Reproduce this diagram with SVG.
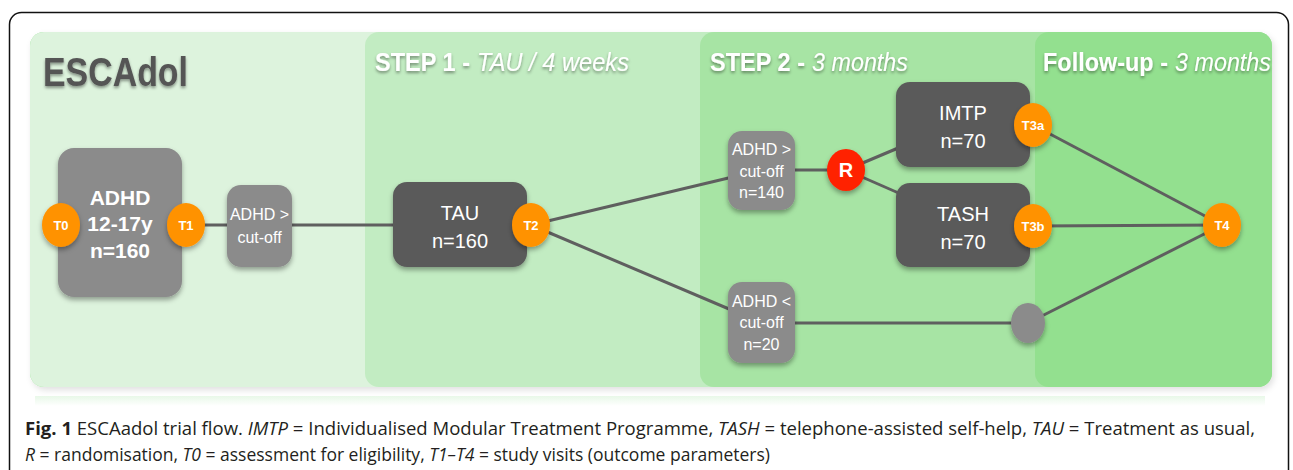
<svg xmlns="http://www.w3.org/2000/svg" width="1293" height="470" viewBox="0 0 1293 470">
<defs>
<filter id="ps" x="-5%" y="-5%" width="110%" height="115%"><feDropShadow dx="2" dy="3" stdDeviation="3" flood-color="#000" flood-opacity="0.12"/></filter>
<filter id="ns" x="-20%" y="-20%" width="140%" height="150%"><feDropShadow dx="0" dy="3" stdDeviation="2.5" flood-color="#000" flood-opacity="0.35"/></filter>
<filter id="ts" x="-5%" y="-20%" width="110%" height="160%"><feDropShadow dx="0" dy="2" stdDeviation="1.5" flood-color="#000" flood-opacity="0.4"/></filter>
<linearGradient id="refl" x1="0" y1="0" x2="0" y2="1"><stop offset="0" stop-color="#e8f8e8"/><stop offset="1" stop-color="#ffffff"/></linearGradient>
<style>
.lt{fill:#8b8b8b}
.dk{fill:#5a5a5a}
.or{fill:#ff9200}
.wt{fill:#fff;font-family:"Liberation Sans",Arial,sans-serif;text-anchor:middle}
.tl{fill:#fff;font-family:"Liberation Sans",Arial,sans-serif;font-weight:bold;font-size:13px;text-anchor:middle}
.hb{font-family:"Liberation Sans",Arial,sans-serif;font-size:26px;fill:#fff;font-weight:bold}
.hi{font-family:"Liberation Sans",Arial,sans-serif;font-size:26px;fill:#fff;font-style:italic}
.cap{font-family:"Open Sans",sans-serif;font-size:17.5px;fill:#231f20}
.cn{stroke:#5f5f5f;stroke-width:3;fill:none}
</style>
</defs>
<rect x="9.5" y="12.5" width="1279" height="500" rx="12" fill="#fff" stroke="#111" stroke-width="1.5"/>
<g id="panels">
<rect x="35" y="396" width="1230" height="10" fill="url(#refl)"/>
<rect x="30" y="32" width="1242" height="355" rx="14" fill="#93e08f" filter="url(#ps)"/>
<rect x="30" y="32" width="400" height="355" rx="14" fill="#ddf3dd"/>
<rect x="365" y="32" width="400" height="355" rx="14" fill="#c2ecc2"/>
<rect x="700" y="32" width="400" height="355" rx="14" fill="#a7e4a4"/>
<rect x="1035" y="32" width="237" height="355" rx="14" fill="#93e08f"/>
<text x="43" y="86" font-family="Liberation Sans, Arial, sans-serif" font-weight="bold" font-size="40" fill="#555" textLength="145" lengthAdjust="spacingAndGlyphs" filter="url(#ts)">ESCAdol</text>
<g filter="url(#ts)">
<text class="hb" x="375" y="71" textLength="95" lengthAdjust="spacingAndGlyphs">STEP 1 -</text>
<text class="hi" x="477" y="71" textLength="152" lengthAdjust="spacingAndGlyphs">TAU / 4 weeks</text>
<text class="hb" x="710" y="71" textLength="95" lengthAdjust="spacingAndGlyphs">STEP 2 -</text>
<text class="hi" x="812" y="71" textLength="96" lengthAdjust="spacingAndGlyphs">3 months</text>
<text class="hb" x="1043" y="71" textLength="125" lengthAdjust="spacingAndGlyphs">Follow-up -</text>
<text class="hi" x="1175" y="71" textLength="96" lengthAdjust="spacingAndGlyphs">3 months</text>
</g>
</g>
<g id="connectors">
<line class="cn" x1="186" y1="225" x2="460" y2="225"/>
<line class="cn" x1="531" y1="225" x2="762" y2="170"/>
<line class="cn" x1="531" y1="225" x2="762" y2="323"/>
<line class="cn" x1="762" y1="170" x2="846" y2="170"/>
<line class="cn" x1="846" y1="170" x2="910" y2="143"/>
<line class="cn" x1="846" y1="170" x2="910" y2="198"/>
<line class="cn" x1="1033" y1="125" x2="1222" y2="225"/>
<line class="cn" x1="1033" y1="226" x2="1222" y2="225"/>
<line class="cn" x1="762" y1="323" x2="1028" y2="323"/>
<line class="cn" x1="1028" y1="323" x2="1222" y2="225"/>
</g>
<g id="n-adhd">
<rect class="lt" x="58" y="148" width="124" height="149" rx="16" filter="url(#ns)"/>
<text class="wt" x="120" font-size="21" font-weight="bold"><tspan x="120" y="205">ADHD</tspan><tspan x="120" y="231">12-17y</tspan><tspan x="120" y="258">n=160</tspan></text>
</g>
<g id="n-t0"><ellipse class="or" cx="61" cy="225" rx="19" ry="22" filter="url(#ns)"/><text class="tl" x="61" y="230">T0</text></g>
<g id="n-t1"><ellipse class="or" cx="186" cy="225" rx="19" ry="22" filter="url(#ns)"/><text class="tl" x="186" y="230">T1</text></g>
<g id="n-cut1">
<rect class="lt" x="227" y="185" width="65" height="82" rx="14" filter="url(#ns)"/>
<text class="wt" font-size="16"><tspan x="259.5" y="220">ADHD &gt;</tspan><tspan x="259.5" y="243">cut-off</tspan></text>
</g>
<g id="n-tau">
<rect class="dk" x="393" y="182" width="134" height="85" rx="14" filter="url(#ns)"/>
<text class="wt" font-size="20"><tspan x="460" y="220">TAU</tspan><tspan x="460" y="248">n=160</tspan></text>
</g>
<g id="n-t2"><ellipse class="or" cx="531" cy="225" rx="19" ry="22" filter="url(#ns)"/><text class="tl" x="531" y="230">T2</text></g>
<g id="n-cut140">
<rect class="lt" x="728" y="131" width="67" height="79" rx="14" filter="url(#ns)"/>
<text class="wt" font-size="16"><tspan x="761.5" y="155">ADHD &gt;</tspan><tspan x="761.5" y="177">cut-off</tspan><tspan x="761.5" y="198">n=140</tspan></text>
</g>
<g id="n-cut20">
<rect class="lt" x="728" y="282" width="67" height="81" rx="14" filter="url(#ns)"/>
<text class="wt" font-size="16"><tspan x="761.5" y="307">ADHD &lt;</tspan><tspan x="761.5" y="328">cut-off</tspan><tspan x="761.5" y="350">n=20</tspan></text>
</g>
<g id="n-r"><ellipse cx="846" cy="170" rx="19" ry="21" fill="#ff2200" filter="url(#ns)"/><text class="wt" x="846" y="177" font-size="20" font-weight="bold">R</text></g>
<g id="n-imtp">
<rect class="dk" x="896" y="82" width="134" height="85" rx="14" filter="url(#ns)"/>
<text class="wt" font-size="20"><tspan x="963" y="120">IMTP</tspan><tspan x="963" y="148">n=70</tspan></text>
</g>
<g id="n-tash">
<rect class="dk" x="896" y="183" width="134" height="84" rx="14" filter="url(#ns)"/>
<text class="wt" font-size="20"><tspan x="963" y="221">TASH</tspan><tspan x="963" y="249">n=70</tspan></text>
</g>
<g id="n-t3a"><ellipse class="or" cx="1033" cy="125" rx="19" ry="22" filter="url(#ns)"/><text class="tl" x="1033" y="130">T3a</text></g>
<g id="n-t3b"><ellipse class="or" cx="1033" cy="226" rx="19" ry="22" filter="url(#ns)"/><text class="tl" x="1033" y="231">T3b</text></g>
<g id="n-t4"><ellipse class="or" cx="1222" cy="225" rx="19" ry="22" filter="url(#ns)"/><text class="tl" x="1222" y="230">T4</text></g>
<g id="n-dot"><ellipse class="lt" cx="1028" cy="323" rx="17" ry="20" filter="url(#ns)"/></g>
<g id="caption">
<text class="cap" x="25" y="435" textLength="1230" lengthAdjust="spacingAndGlyphs"><tspan font-weight="bold">Fig. 1</tspan> ESCAadol trial flow. <tspan font-style="italic">IMTP</tspan> = Individualised Modular Treatment Programme, <tspan font-style="italic">TASH</tspan> = telephone-assisted self-help, <tspan font-style="italic">TAU</tspan> = Treatment as usual,</text>
<text class="cap" x="25" y="461" textLength="745" lengthAdjust="spacingAndGlyphs"><tspan font-style="italic">R</tspan> = randomisation, <tspan font-style="italic">T0</tspan> = assessment for eligibility, <tspan font-style="italic">T1–T4</tspan> = study visits (outcome parameters)</text>
</g>
</svg>
